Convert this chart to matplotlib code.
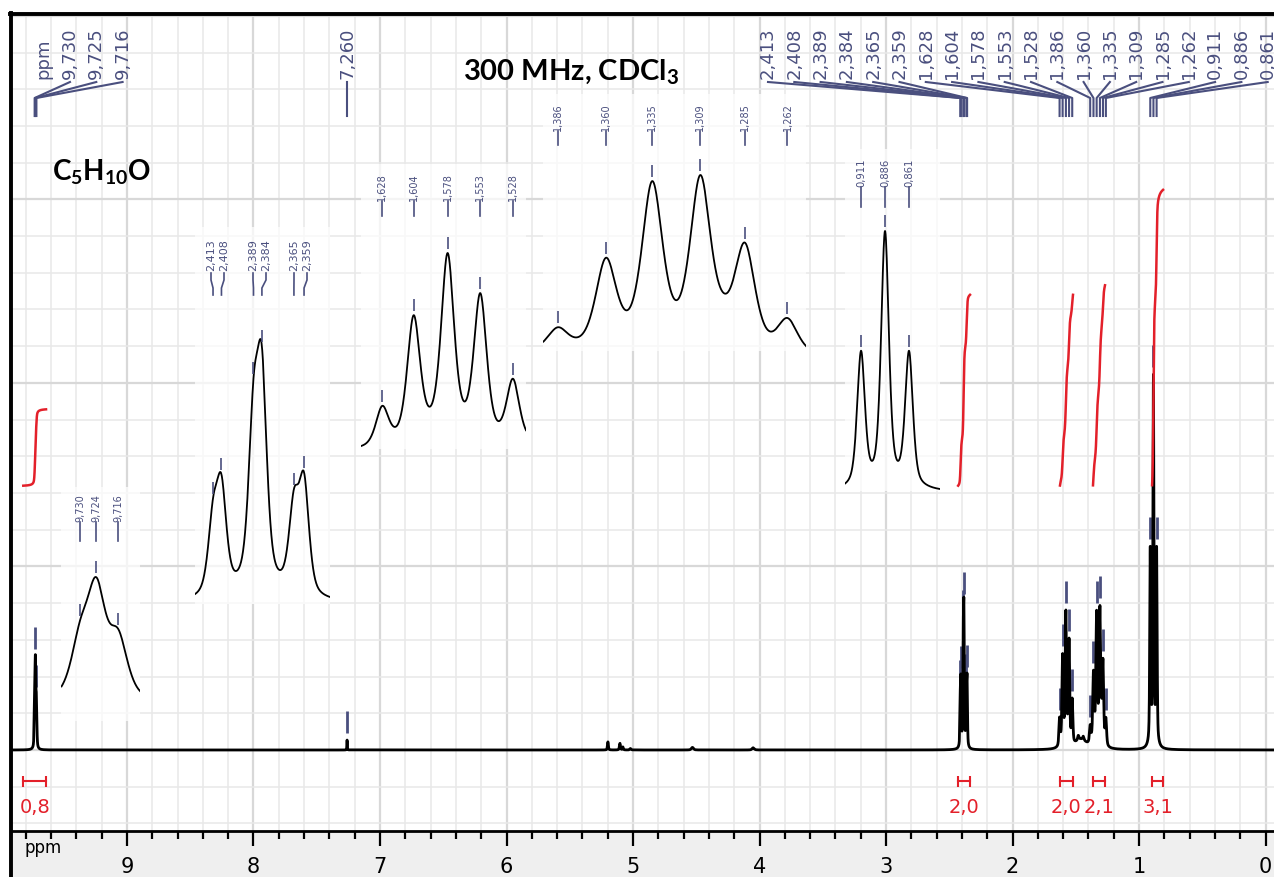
import numpy as np
import matplotlib
matplotlib.use('Agg')
import matplotlib.pyplot as plt
from matplotlib.lines import Line2D
from matplotlib.patches import Rectangle

# --------------------------------------------------------------------------- #
# Data: peak lists (ppm, height, full width at half height)
# --------------------------------------------------------------------------- #
cho_ppm = [9.730, 9.724, 9.716]
cho_h = [1.10, 2.15, 1.20]
cho_fw = 0.008

solv_ppm = [7.260]
solv_h = [0.27]
solv_fw = 0.004

a_ppm = [2.413, 2.408, 2.389, 2.384, 2.365, 2.359]
a_h = [1.10, 1.55, 2.40, 3.10, 1.30, 1.70]
a_fw = 0.007

b_ppm = [1.628, 1.604, 1.578, 1.553, 1.528]
b_h = [0.72, 2.30, 3.35, 2.70, 1.17]
b_fw = 0.0116

c_ppm = [1.386, 1.360, 1.335, 1.309, 1.297, 1.285, 1.262]
c_h = [0.45, 1.80, 3.30, 3.45, 0.30, 2.15, 0.70]
c_fw = 0.013

d_ppm = [0.911, 0.886, 0.861]
d_h = [5.2, 9.8, 5.2]
d_fw = 0.0095

# small impurities and broad feet under the multiplets
minor_ppm = [5.198, 5.103, 5.080, 5.020, 4.530, 4.050, 2.386, 1.580, 1.480, 1.460, 1.440, 1.330, 0.886]
minor_h = [0.22, 0.18, 0.08, 0.04, 0.07, 0.06, 0.20, 0.30, 0.12, 0.25, 0.10, 0.30, 0.25]
minor_fw = [0.008, 0.010, 0.008, 0.012, 0.020, 0.020, 0.040, 0.060, 0.012, 0.100, 0.012, 0.070, 0.060]

# peak labels
top_left_labels = [9.730, 9.725, 9.716]
top_mid_labels = [7.260]
top_right_labels = [2.413, 2.408, 2.389, 2.384, 2.365, 2.359,
                    1.628, 1.604, 1.578, 1.553, 1.528,
                    1.386, 1.360, 1.335, 1.309, 1.285, 1.262,
                    0.911, 0.886, 0.861]
cho_inset_labels = [9.730, 9.724, 9.716]
a_inset_labels = a_ppm
b_inset_labels = b_ppm
c_inset_labels = [1.386, 1.360, 1.335, 1.309, 1.285, 1.262]
d_inset_labels = d_ppm

# integrals
int_ranges = [(9.82, 9.64), (2.43, 2.336), (1.625, 1.522), (1.364, 1.269), (0.897, 0.810)]
int_values = [0.8, 2.0, 2.0, 2.1, 3.1]

xticks = [0, 1, 2, 3, 4, 5, 6, 7, 8, 9]

# --------------------------------------------------------------------------- #
# Style
# --------------------------------------------------------------------------- #
W, H = 1274, 878
BLUE = '#4a4f7e'
RED = '#e3202a'
plt.rcParams['font.family'] = ['DejaVu Sans']
plt.rcParams['mathtext.fontset'] = 'custom'
plt.rcParams['mathtext.rm'] = 'Lato:bold'
plt.rcParams['mathtext.default'] = 'rm'


def fmt(v):
  return "{0:.3f}".format(v).replace('.', ',')


def fig_line(fig, xs, ys, **kw):
  # xs, ys in pixels from the top-left corner
  fig.add_artist(Line2D([x / W for x in xs], [1 - y / H for y in ys],
                        transform=fig.transFigure, **kw))


def line_shape(x, p, h, fw):
  # pseudo-Voigt, half Lorentzian / half Gaussian
  u = (x - p) / (fw / 2)
  return h * (0.5 / (1 + u ** 2) + 0.5 * np.exp(-np.log(2) * u ** 2))


def build_spectrum(ppm):
  spec = np.zeros_like(ppm)
  groups = [(cho_ppm, cho_h, cho_fw), (solv_ppm, solv_h, solv_fw), (a_ppm, a_h, a_fw),
            (b_ppm, b_h, b_fw), (c_ppm, c_h, c_fw), (d_ppm, d_h, d_fw)]
  for pos, hts, fw in groups:
    for p, h in zip(pos, hts):
      spec += line_shape(ppm, p, h, fw)
  for p, h, fw in zip(minor_ppm, minor_h, minor_fw):
    spec += line_shape(ppm, p, h, fw)
  return spec


# --------------------------------------------------------------------------- #
# Main
# --------------------------------------------------------------------------- #
ppm = np.arange(-0.1, 9.95, 0.0002)
spec = build_spectrum(ppm)

fig = plt.figure(figsize=(W / 100, H / 100), dpi=100)
fig.patches.append(Rectangle((12 / W, 0), 1, (H - 833) / H, transform=fig.transFigure,
                             facecolor='#efefef', edgecolor='none', zorder=-1))

ax = fig.add_axes([12 / W, 1 - 832 / H, (1274 - 12) / W, (832 - 15) / H])
ax.set_xlim(9.909, -0.067)
ax.set_ylim(-2.207, 20.05)

# grid
for g in np.arange(0, 9.9, 0.2):
  major = abs(g - round(g)) < 1e-6
  ax.axvline(g, color='#d8d8d8' if major else '#e8e8e8', lw=1.6 if major else 1.1, zorder=0)
for k in range(-2, 21):
  ax.axhline(k, color='#d8d8d8' if k % 5 == 0 else '#e8e8e8', lw=1.6 if k % 5 == 0 else 1.1, zorder=0)

ax.plot(ppm, spec, color='black', lw=2.0, zorder=3)

# peak markers in the main spectrum
for p in top_left_labels + top_mid_labels + top_right_labels:
  s = np.interp(p, ppm, spec)
  ax.vlines(p, s + 0.2, s + 0.8, color=BLUE, lw=2, zorder=2)

# integrals
base = 7.2
per_h = 2.6
for (hi, lo), val in zip(int_ranges, int_values):
  m = (ppm <= hi) & (ppm >= lo)
  xs = ppm[m][::-1]
  cum = np.cumsum(spec[m][::-1])
  ax.plot(xs, base + val * per_h * cum / cum[-1], color=RED, lw=1.8, zorder=4)
  ax.plot([hi, lo], [-0.85, -0.85], color=RED, lw=1.5)
  ax.vlines([hi, lo], -1.0, -0.7, color=RED, lw=1.5)
  ax.text((hi + lo) / 2, -1.55, "{0:.1f}".format(val).replace('.', ','), color=RED,
          fontsize=14, ha='center', va='center')

# axis
for s in ['top', 'right', 'left']:
  ax.spines[s].set_visible(False)
ax.spines['bottom'].set_linewidth(2)
ax.set_yticks([])
ax.set_xticks(xticks)
ax.set_xticklabels([str(t) for t in xticks], fontsize=15)
ax.set_xticks(np.arange(0, 9.9, 0.2), minor=True)
ax.tick_params(axis='x', which='major', direction='out', length=11, width=1.6, pad=7)
ax.tick_params(axis='x', which='minor', direction='out', length=6, width=1.6)
fig.text(43 / W, 1 - 848 / H, 'ppm', fontsize=12, ha='center', va='center')

# frame
fig_line(fig, [11, 11], [14, H], color='black', lw=2.8)
fig_line(fig, [10, W], [15, 15], color='black', lw=2.8)

# titles
fig.text(571 / W, 1 - 72 / H, r'300 MHz, CDCl$_3$', fontsize=21, family='Lato',
         weight='bold', ha='center', va='center')
fig.text(52 / W, 1 - 172 / H, r'$C_5H_{10}O$', fontsize=20, ha='left', va='center')


def px_x(p):
  return ax.transData.transform((p, 0))[0]


# top labels with connector lines
fig.text(43 / W, 1 - 79 / H, 'ppm', rotation=90, fontsize=13, color=BLUE, ha='center', va='bottom')
for i, p in enumerate(top_left_labels):
  lx = 70 + 26.3 * i
  fig.text(lx / W, 1 - 79 / H, fmt(p), rotation=90, fontsize=13, color=BLUE, ha='center', va='bottom')
  fig_line(fig, [lx, px_x(p), px_x(p)], [83, 99, 117], color=BLUE, lw=1.5)
for p in top_mid_labels:
  lx = px_x(p)
  fig.text(lx / W, 1 - 79 / H, fmt(p), rotation=90, fontsize=13, color=BLUE, ha='center', va='bottom')
  fig_line(fig, [lx, lx], [83, 117], color=BLUE, lw=1.5)
for i, p in enumerate(top_right_labels):
  lx = 768 + 26.3 * i
  fig.text(lx / W, 1 - 79 / H, fmt(p), rotation=90, fontsize=13, color=BLUE, ha='center', va='bottom')
  fig_line(fig, [lx, px_x(p), px_x(p)], [83, 99, 117], color=BLUE, lw=1.5)

# --------------------------------------------------------------------------- #
# Insets
# --------------------------------------------------------------------------- #
insets = [
  dict(box=(61, 488, 140, 722), xlim=(9.737, 9.708), top=578, bot=692,
       labels=cho_inset_labels, ty=522, line=(523, 542), fs=7),
  dict(box=(195, 228, 330, 605), xlim=(2.4237, 2.3436), top=340, bot=598,
       labels=a_inset_labels, ty=271, line=None, fs=8),
  dict(box=(361, 165, 526, 450), xlim=(1.6443, 1.518), top=254, bot=447,
       labels=b_inset_labels, ty=201, line=(202, 217), fs=7),
  dict(box=(543, 95, 806, 352), xlim=(1.394, 1.252), top=176, bot=347,
       labels=c_inset_labels, ty=131, line=(132, 146), fs=7),
  dict(box=(845, 150, 940, 492), xlim=(0.9277, 0.8287), top=232, bot=490,
       labels=d_inset_labels, ty=187, line=(188, 208), fs=7.2),
]
a_label_px = [211, 224, 253, 266, 294, 307]

for ins in insets:
  x0, y0, x1, y1 = ins['box']
  iax = fig.add_axes([x0 / W, 1 - y1 / H, (x1 - x0) / W, (y1 - y0) / H])
  iax.set_facecolor((1, 1, 1, 0.72))
  for s in iax.spines.values():
    s.set_visible(False)
  iax.set_xticks([])
  iax.set_yticks([])
  m = (ppm <= ins['xlim'][0]) & (ppm >= ins['xlim'][1])
  s = spec[m]
  k = (s.max() - s.min()) / (ins['bot'] - ins['top'])
  iax.set_xlim(ins['xlim'])
  iax.set_ylim(s.min() - (y1 - ins['bot']) * k, s.max() + (ins['top'] - y0) * k)
  iax.plot(ppm[m], s, color='black', lw=1.3)
  for j, p in enumerate(ins['labels']):
    sp = np.interp(p, ppm, spec)
    iax.vlines(p, sp + 4 * k, sp + 16 * k, color=BLUE, lw=1.2)
    lx = iax.transData.transform((p, 0))[0]
    if ins['line'] is None:
      tx = a_label_px[j]
      fig.text(tx / W, 1 - ins['ty'] / H, fmt(p), rotation=90, fontsize=ins['fs'],
               color=BLUE, ha='center', va='bottom')
      fig_line(fig, [tx, tx, lx, lx], [274, 281, 289, 296], color=BLUE, lw=1.2)
    else:
      fig.text(lx / W, 1 - ins['ty'] / H, fmt(p), rotation=90, fontsize=ins['fs'],
               color=BLUE, ha='center', va='bottom')
      fig_line(fig, [lx, lx], list(ins['line']), color=BLUE, lw=1.2)

fig.savefig('out.png', dpi=100)
